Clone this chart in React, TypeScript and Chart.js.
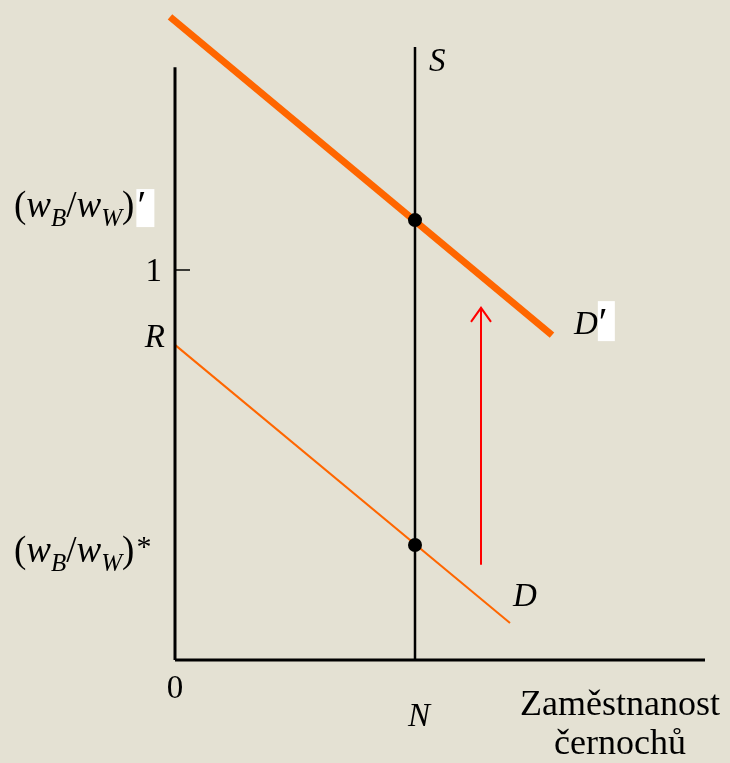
import React, { useEffect, useRef } from "react";
import { Chart, registerables } from "chart.js";

Chart.register(...registerables);

// ---- data (economic units: x = employment, y = relative wage wB/wW) ----
const X_MIN = -4.375;
const X_MAX = 13.875;
const Y_MIN = -0.2641;
const Y_MAX = 1.6923;
const X_AXIS_END = 13.25;
const Y_AXIS_TOP = 1.52;
const N_VALUE = 6;
const S_TOP = 1.572;
const TICK_VALUE = 1;
const R_VALUE = 0.808;
const D_X = [0, 8.375];
const D_Y = [R_VALUE, 0.095];
const DP_X = [-0.125, 9.425];
const DP_Y = [1.649, 0.833];
const EQ_Y = [0.295, 1.128]; // (wB/wW)*, (wB/wW)'
const ARROW_X = 7.65;
const ARROW_Y = [0.244, 0.903];
const X_TITLE = ["Zaměstnanost", "černochů"];

const SERIF = '"Liberation Serif", "Times New Roman", "DejaVu Serif", serif';
const BG = "#E4E1D3";
const ORANGE = "#FF6600";

type Run = { text: string; font: string; dy?: number };

function drawRuns(ctx: CanvasRenderingContext2D, x: number, y: number, runs: Run[]) {
  let cx = x;
  for (const r of runs) {
    ctx.font = r.font;
    ctx.fillText(r.text, cx, y + (r.dy || 0));
    cx += ctx.measureText(r.text).width;
  }
  return cx;
}

function ratioRuns(): Run[] {
  const up = `37px ${SERIF}`;
  const it = `italic 37px ${SERIF}`;
  const sub = `italic 25px ${SERIF}`;
  return [
    { text: "(", font: up },
    { text: "w", font: it },
    { text: "B", font: sub, dy: 9 },
    { text: "/", font: up },
    { text: "w", font: it },
    { text: "W", font: sub, dy: 9 },
    { text: ")", font: up },
  ];
}

const bgPlugin = {
  id: "bg",
  beforeDraw(chart: any) {
    const { ctx, width, height } = chart;
    ctx.save();
    ctx.fillStyle = BG;
    ctx.fillRect(0, 0, width, height);
    ctx.restore();
  },
};

const labelPlugin = {
  id: "labels",
  afterDatasetsDraw(chart: any) {
    const ctx: CanvasRenderingContext2D = chart.ctx;
    const xs = chart.scales.x;
    const ys = chart.scales.y;
    const px = (v: number) => xs.getPixelForValue(v);
    const py = (v: number) => ys.getPixelForValue(v);
    ctx.save();
    ctx.fillStyle = "#000";
    ctx.textBaseline = "alphabetic";
    ctx.textAlign = "left";

    // (wB/wW)'
    const b1 = py(EQ_Y[1]) - 3;
    const e1 = drawRuns(ctx, 14, b1, ratioRuns());
    ctx.fillStyle = "#fff";
    ctx.fillRect(e1 + 2, b1 - 28, 18, 38);
    ctx.fillStyle = "#000";
    ctx.font = `40px ${SERIF}`;
    ctx.fillText("\u2032", e1 + 3, b1 + 1);

    // (wB/wW)*
    const b2 = py(EQ_Y[0]) + 17;
    const e2 = drawRuns(ctx, 14, b2, ratioRuns());
    ctx.font = `30px ${SERIF}`;
    ctx.fillText("*", e2 + 2, b2 - 6);

    // tick label 1
    ctx.textAlign = "right";
    ctx.font = `33px ${SERIF}`;
    ctx.fillText("1", px(0) - 13, py(TICK_VALUE) + 11);
    // R
    ctx.font = `italic 33px ${SERIF}`;
    ctx.fillText("R", px(0) - 10, py(R_VALUE) + 2);

    ctx.textAlign = "left";
    // S
    ctx.font = `italic 33px ${SERIF}`;
    ctx.fillText("S", px(N_VALUE) + 14, py(S_TOP) + 24);
    // D'
    const dx = px(DP_X[1]) + 22;
    const dy = py(DP_Y[1]) - 1;
    ctx.font = `italic 33px ${SERIF}`;
    ctx.fillText("D", dx, dy);
    const dw = ctx.measureText("D").width;
    ctx.fillStyle = "#fff";
    ctx.fillRect(dx + dw, dy - 33, 17, 40);
    ctx.fillStyle = "#000";
    ctx.font = `40px ${SERIF}`;
    ctx.fillText("\u2032", dx + dw + 1, dy + 1);
    // D
    ctx.font = `italic 33px ${SERIF}`;
    ctx.fillText("D", px(D_X[1]) + 3, py(D_Y[1]) - 17);

    // 0 and N
    ctx.textAlign = "center";
    ctx.font = `33px ${SERIF}`;
    ctx.fillText("0", px(0), py(0) + 38);
    ctx.font = `italic 33px ${SERIF}`;
    ctx.fillText("N", px(N_VALUE) + 4, py(0) + 66);

    // x title
    ctx.font = `36px ${SERIF}`;
    ctx.fillText(X_TITLE[0], 620, py(0) + 55);
    ctx.fillText(X_TITLE[1], 620, py(0) + 94);
    ctx.restore();
  },
};

const seg = (x0: number, y0: number, x1: number, y1: number) => [
  { x: x0, y: y0 },
  { x: x1, y: y1 },
];

export default function App() {
  const ref = useRef<HTMLCanvasElement | null>(null);
  useEffect(() => {
    document.body.style.margin = "0";
    const canvas = ref.current!;
    const line = (data: any[], color: string, width: number, order: number) => ({
      type: "scatter" as const,
      data,
      showLine: true,
      borderColor: color,
      backgroundColor: color,
      borderWidth: width,
      pointRadius: 0,
      borderCapStyle: "butt" as const,
      order,
    });
    const chart = new Chart(canvas, {
      type: "scatter",
      data: {
        datasets: [
          line(seg(DP_X[0], DP_Y[0], DP_X[1], DP_Y[1]), ORANGE, 7, 5),
          line(seg(D_X[0], D_Y[0], D_X[1], D_Y[1]), ORANGE, 2, 5),
          line(seg(0, 0, 0, Y_AXIS_TOP), "#000", 3, 3),
          line(seg(0, 0, X_AXIS_END, 0), "#000", 3, 3),
          line(seg(N_VALUE, 0, N_VALUE, S_TOP), "#000", 2.5, 3),
          line(seg(0, TICK_VALUE, 0.375, TICK_VALUE), "#000", 1.5, 3),
          line(seg(ARROW_X, ARROW_Y[0], ARROW_X, ARROW_Y[1]), "#FF0000", 2, 4),
          line(
            [
              { x: ARROW_X - 0.25, y: ARROW_Y[1] - 0.036 },
              { x: ARROW_X, y: ARROW_Y[1] },
              { x: ARROW_X + 0.25, y: ARROW_Y[1] - 0.036 },
            ],
            "#FF0000",
            2,
            4
          ),
          {
            type: "scatter",
            data: EQ_Y.map((y) => ({ x: N_VALUE, y })),
            pointRadius: 7,
            pointBackgroundColor: "#000",
            pointBorderColor: "#000",
            pointBorderWidth: 0,
            showLine: false,
            order: 0,
          },
        ] as any,
      },
      options: {
        animation: false,
        responsive: false,
        layout: { padding: 0, autoPadding: false },
        plugins: { legend: { display: false }, tooltip: { enabled: false } },
        events: [],
        scales: {
          x: { type: "linear", min: X_MIN, max: X_MAX, display: false },
          y: { type: "linear", min: Y_MIN, max: Y_MAX, display: false },
        },
      },
      plugins: [bgPlugin, labelPlugin],
    });
    return () => chart.destroy();
  }, []);
  return (
    <div style={{ position: "absolute", left: 0, top: 0, width: 730, height: 763 }}>
      <canvas ref={ref} width={730} height={763} style={{ display: "block" }} />
    </div>
  );
}
